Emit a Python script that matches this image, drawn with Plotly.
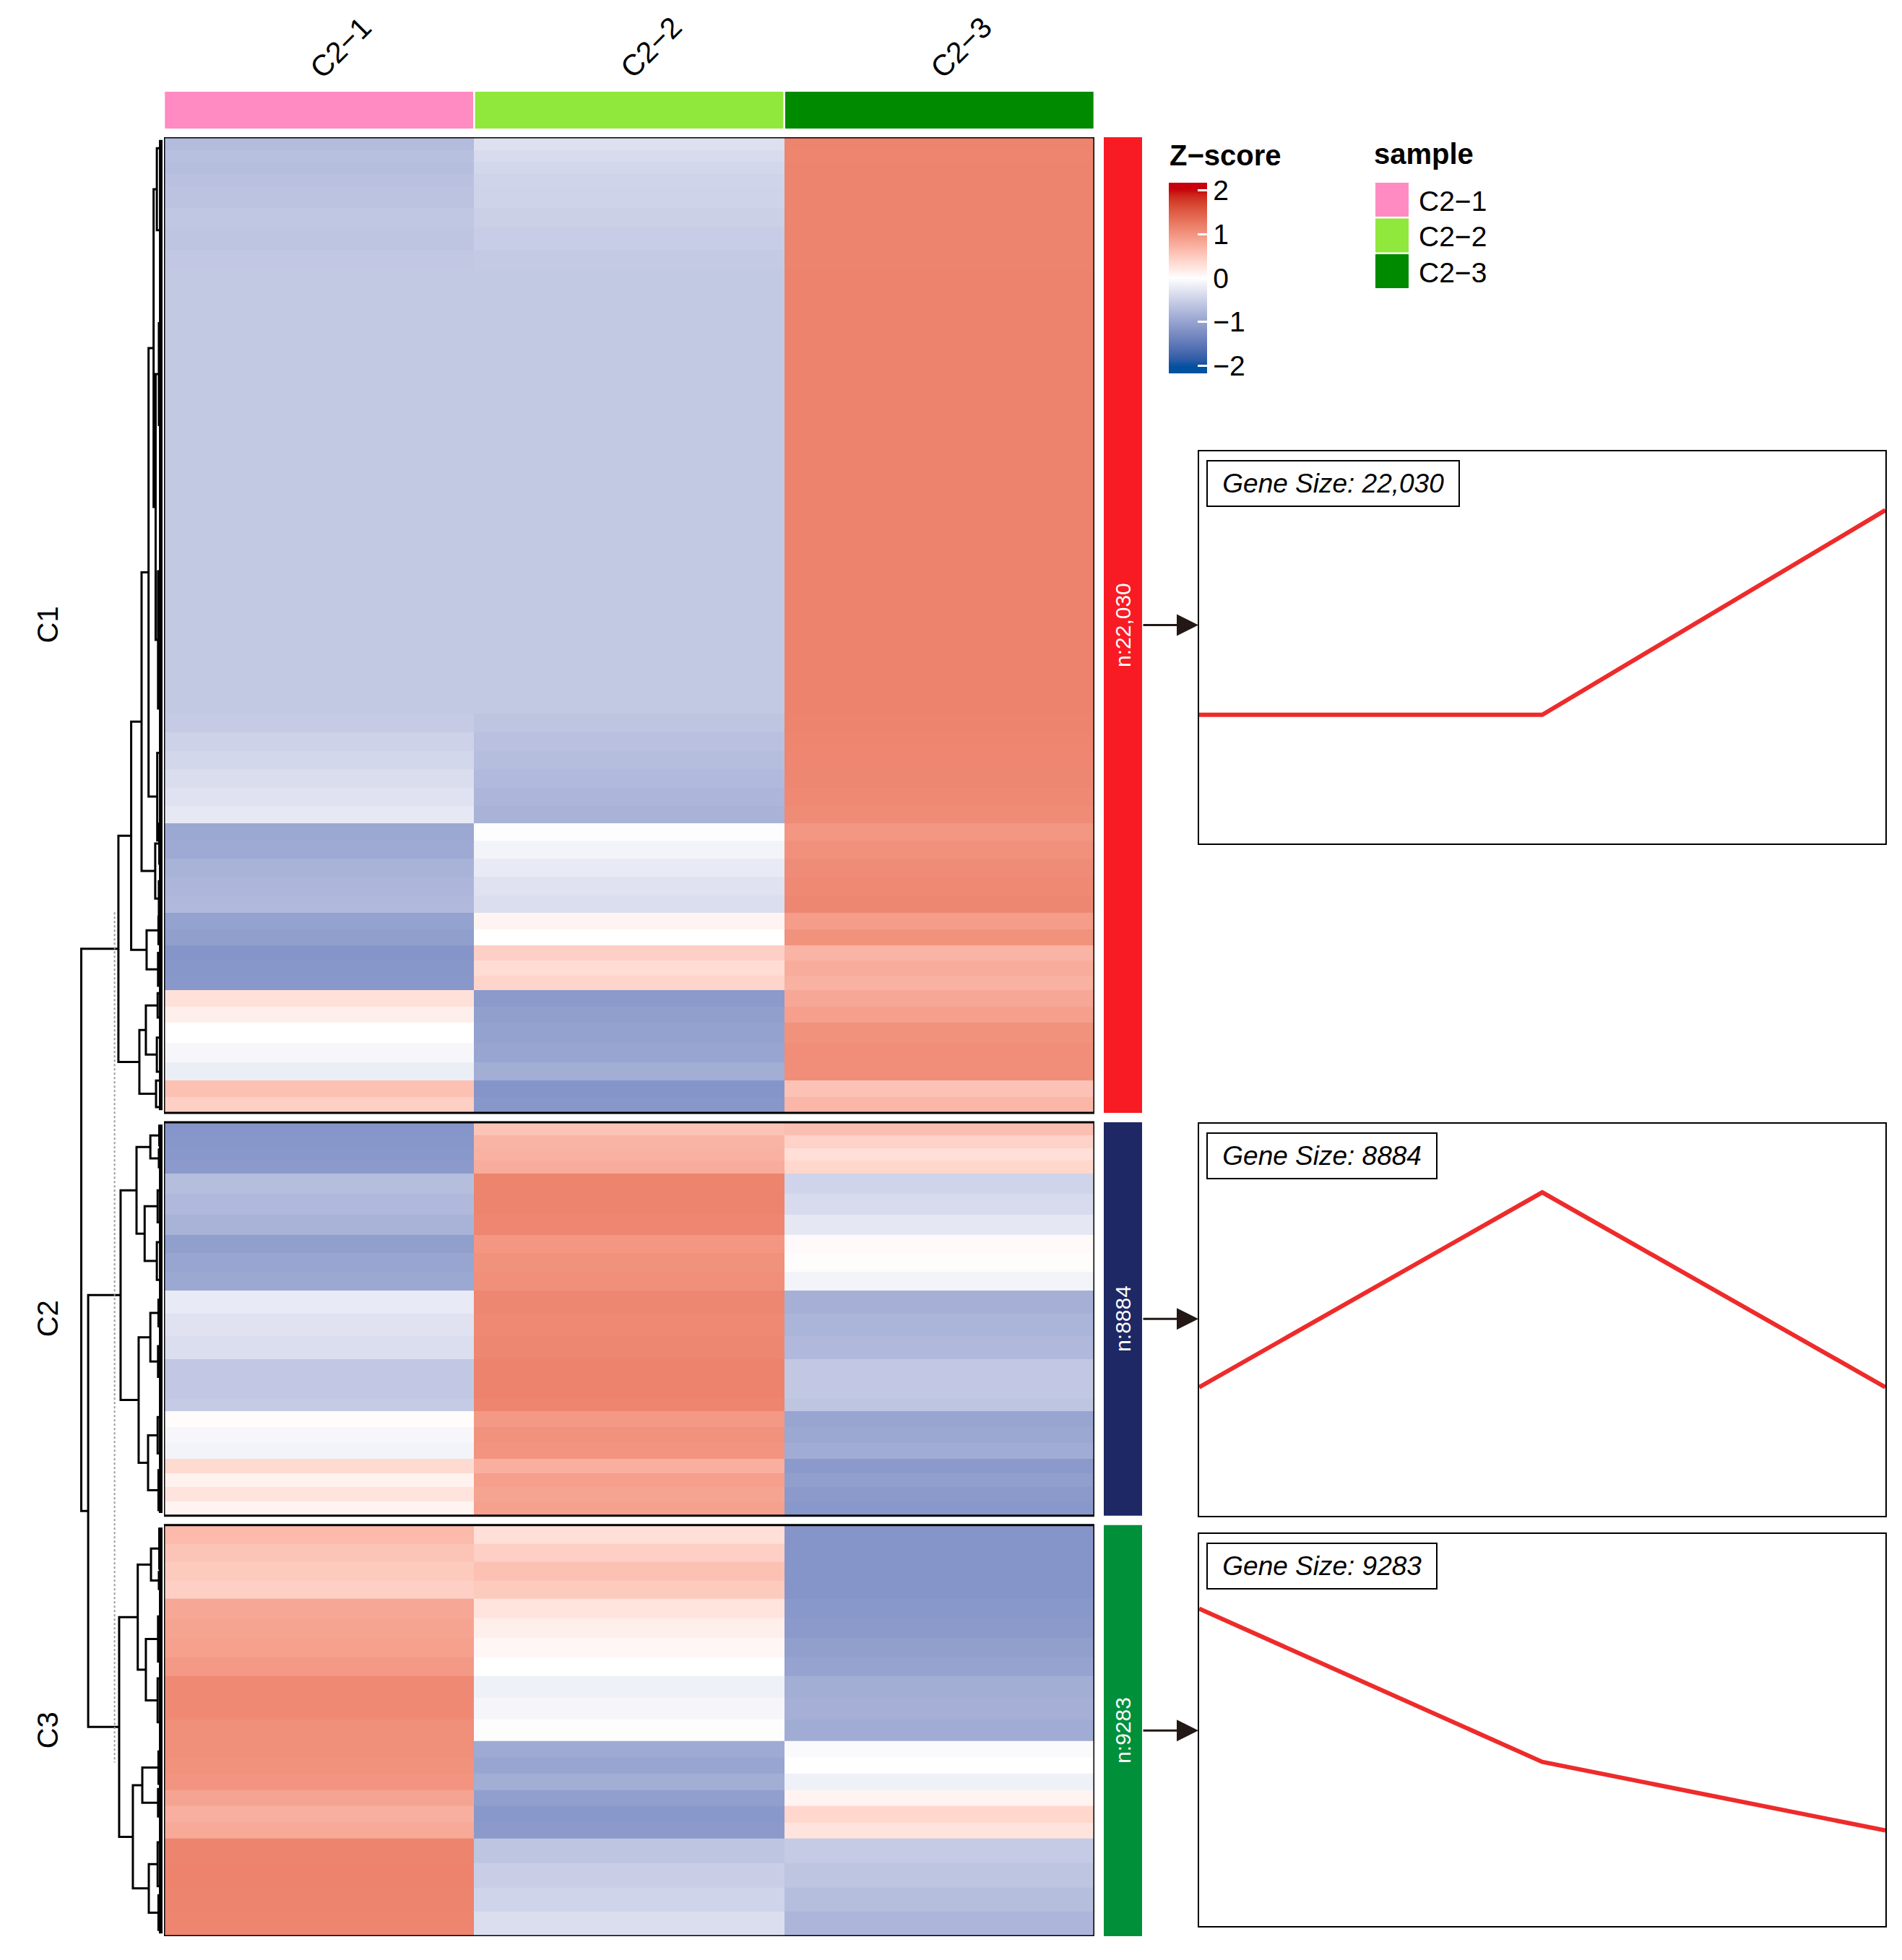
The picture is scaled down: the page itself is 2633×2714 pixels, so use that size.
import numpy as np
import plotly.graph_objects as go

W, H = 2633, 2714
OFF = 8  # page margin of the html body
FONT = "Arial, Liberation Sans, sans-serif"

# ---- data ----
samples = ["C2−1", "C2−2", "C2−3"]
sample_colors = ["#FF8BC2", "#91E83D", "#008A00"]

cluster_names = ["C1", "C2", "C3"]
cluster_sizes = [22030, 8884, 9283]
cluster_labels = ["22,030", "8884", "9283"]
cluster_colors = ["#F81B23", "#1D2864", "#00903A"]
cluster_gap = 212  # empty rows between slices

# z-score rows, run length: (genes, C2-1, C2-2, C2-3)
c1_rows = [
    (300, -0.72, -0.33, 1.15), (250, -0.68, -0.38, 1.14), (280, -0.70, -0.42, 1.15), (260, -0.66, -0.45, 1.15),
    (500, -0.64, -0.47, 1.15), (450, -0.60, -0.50, 1.15), (500, -0.62, -0.53, 1.15), (440, -0.58, -0.56, 1.15),
    (10033, -0.577, -0.577, 1.155),
    (420, -0.55, -0.62, 1.15), (420, -0.48, -0.66, 1.14), (420, -0.42, -0.70, 1.13),
    (420, -0.36, -0.74, 1.12), (400, -0.30, -0.78, 1.10), (392, -0.24, -0.82, 1.08),
    (400, -0.95, -0.02, 0.98), (400, -0.92, -0.12, 1.03),
    (420, -0.82, -0.22, 1.08), (420, -0.78, -0.30, 1.10), (396, -0.75, -0.35, 1.12),
    (360, -1.02, 0.10, 0.92), (367, -1.05, 0.00, 1.02),
    (340, -1.15, 0.45, 0.70), (340, -1.13, 0.32, 0.78), (338, -1.12, 0.40, 0.72),
    (360, 0.28, -1.10, 0.82), (367, 0.15, -1.05, 0.90),
    (450, 0.00, -1.02, 1.02), (450, -0.08, -0.98, 1.06), (409, -0.18, -0.88, 1.06),
    (364, 0.58, -1.15, 0.57), (364, 0.45, -1.13, 0.68),
]
c2_rows = [
    (290, -1.15, 0.55, 0.60), (290, -1.13, 0.70, 0.42), (290, -1.12, 0.72, 0.30), (291, -1.10, 0.78, 0.38),
    (460, -0.70, 1.15, -0.45), (460, -0.75, 1.15, -0.38), (457, -0.82, 1.13, -0.25),
    (420, -1.05, 0.98, 0.05), (420, -0.98, 1.02, 0.02), (417, -0.95, 1.05, -0.12),
    (520, -0.22, 1.12, -0.85), (520, -0.30, 1.10, -0.80), (516, -0.35, 1.12, -0.75),
    (900, -0.58, 1.155, -0.58), (273, -0.55, 1.14, -0.62),
    (360, 0.03, 0.95, -0.98), (360, -0.08, 1.02, -0.95), (357, -0.12, 1.00, -0.90),
    (320, 0.35, 0.75, -1.10), (320, 0.12, 0.90, -1.05), (320, 0.25, 0.85, -1.10), (323, 0.10, 0.88, -1.12),
]
c3_rows = [
    (420, 0.65, 0.30, -1.15), (413, 0.55, 0.45, -1.15),
    (420, 0.50, 0.58, -1.15), (413, 0.45, 0.50, -1.15),
    (440, 0.82, 0.25, -1.12), (442, 0.85, 0.15, -1.10),
    (430, 0.88, 0.08, -1.05), (428, 0.95, 0.00, -1.00),
    (490, 1.10, -0.15, -0.88), (490, 1.10, -0.10, -0.85), (490, 1.05, -0.02, -0.90),
    (370, 1.05, -0.92, -0.05), (370, 1.02, -0.98, 0.00), (363, 1.00, -0.88, -0.15),
    (370, 0.85, -1.05, 0.10), (370, 0.75, -1.12, 0.38), (363, 0.80, -1.10, 0.25),
    (550, 1.15, -0.62, -0.55), (550, 1.155, -0.52, -0.62), (550, 1.15, -0.45, -0.70), (551, 1.14, -0.35, -0.78),
]
cluster_rows = [c1_rows, c2_rows, c3_rows]

# mean z-score profile of each cluster
profile_c1 = [-0.55, -0.55, 1.12]
profile_c2 = [-0.55, 1.04, -0.55]
profile_c3 = [0.99, -0.26, -0.82]
profiles = [profile_c1, profile_c2, profile_c3]

# row dendrogram: node -> (height, child, child); int children are leaf rows
dend = {
    "root": (10.0, "C1", "C23"),
    "C23": (9.15, "C2", "C3"),
    "C1": (5.43, "A", "E"),
    "A": (3.86, "B", "Abot"),
    "B": (2.58, "C", "Bbot"),
    "C": (1.72, "D", "Cbot"),
    "D": (1.10, "D1", "D2"),
    "D1": (0.70, 250, 2100),
    "D2": (0.85, "D2a", "D2b"),
    "D2a": (0.45, 4200, 6500),
    "D2b": (0.55, 9800, 12900),
    "Cbot": (0.65, 13900, 15880),
    "Bbot": (0.90, "Bb1", "Bb2"),
    "Bb1": (0.40, 15500, 16400),
    "Bb2": (0.45, 16800, 17580),
    "Abot": (1.96, "Ab1", "Ab2"),
    "Ab1": (0.50, 17600, 18220),
    "Ab2": (0.55, 18420, 19160),
    "E": (2.85, "Etop", "Ebot"),
    "Etop": (2.05, "Et1", "Et2"),
    "Et1": (0.60, 19330, 19880),
    "Et2": (0.70, 20330, 21100),
    "Ebot": (0.80, 21300, 21900),
    "C2": (5.16, "C2a", "C2b"),
    "C2a": (3.20, "C2aa", "C2ab"),
    "C2aa": (1.50, "C2aa1", "C2aa2"),
    "C2aa1": (0.40, 22320, 22760),
    "C2aa2": (0.45, 22860, 23260),
    "C2ab": (2.20, "C2ab1", "C2ab2"),
    "C2ab1": (0.60, 23780, 24500),
    "C2ab2": (0.70, 24950, 25800),
    "C2b": (2.94, "C2ba", "C2bb"),
    "C2ba": (1.50, "C2ba1", "C2ba2"),
    "C2ba1": (0.50, 26250, 26850),
    "C2ba2": (0.55, 27300, 27990),
    "C2bb": (1.78, "C2bb1", "C2bb2"),
    "C2bb1": (0.60, 28900, 29720),
    "C2bb2": (0.50, 30100, 31000),
    "C3": (5.34, "C3a", "C3b"),
    "C3a": (3.05, "C3aa", "C3ab"),
    "C3aa": (1.42, "C3aa1", "C3aa2"),
    "C3aa1": (0.40, 31420, 32320),
    "C3aa2": (0.45, 32400, 32780),
    "C3ab": (2.05, "C3ab1", "C3ab2"),
    "C3ab1": (0.55, 33400, 34420),
    "C3ab2": (0.60, 34800, 35790),
    "C3b": (3.65, "C3ba", "C3bb"),
    "C3ba": (2.49, "C3ba1", "C3ba2"),
    "C3ba1": (0.50, 36450, 37180),
    "C3ba2": (0.55, 37300, 37920),
    "C3bb": (1.69, "C3bb1", "C3bb2"),
    "C3bb1": (0.60, 38500, 39490),
    "C3bb2": (0.50, 39700, 40480),
}
cut_height = 5.9
cut_rows = [17500, 36700]

zticks = [-2, -1, 0, 1, 2]
zlo, zhi = -2.17, 2.17
ramp_colors = ["#0051A0", "#FFFFFF", "#C6000C"]  # at -2, 0, 2


# ---- colour ramp in LAB space ----
def hex_to_lab(h):
    rgb = [int(h[i:i + 2], 16) / 255 for i in (1, 3, 5)]
    r, g, b = [c / 12.92 if c <= 0.04045 else ((c + 0.055) / 1.055) ** 2.4 for c in rgb]
    X = (0.4124 * r + 0.3576 * g + 0.1805 * b) / 0.95047
    Y = 0.2126 * r + 0.7152 * g + 0.0722 * b
    Z = (0.0193 * r + 0.1192 * g + 0.9505 * b) / 1.08883
    f = lambda t: t ** (1 / 3) if t > 0.008856 else 7.787 * t + 16 / 116
    fx, fy, fz = f(X), f(Y), f(Z)
    return np.array([116 * fy - 16, 500 * (fx - fy), 200 * (fy - fz)])


def lab_to_hex(lab):
    L, a, b = lab
    fy = (L + 16) / 116
    fx, fz = fy + a / 500, fy - b / 200
    finv = lambda t: t ** 3 if t ** 3 > 0.008856 else (t - 16 / 116) / 7.787
    X, Y, Z = 0.95047 * finv(fx), finv(fy), 1.08883 * finv(fz)
    rgb = [3.2406 * X - 1.5372 * Y - 0.4986 * Z,
           -0.9689 * X + 1.8758 * Y + 0.0415 * Z,
           0.0557 * X - 0.2040 * Y + 1.0570 * Z]
    out = []
    for c in rgb:
        c = min(max(c, 0), 1)
        c = 12.92 * c if c <= 0.0031308 else 1.055 * c ** (1 / 2.4) - 0.055
        out.append(int(round(min(max(c, 0), 1) * 255)))
    return "#%02X%02X%02X" % tuple(out)


labs = [hex_to_lab(c) for c in ramp_colors]
colorscale = []
for v in np.linspace(zlo, zhi, 63):
    t = min(max(v, -2), 2)
    if t < 0:
        lab = labs[1] + (labs[0] - labs[1]) * (-t / 2)
    else:
        lab = labs[1] + (labs[2] - labs[1]) * (t / 2)
    colorscale.append([(v - zlo) / (zhi - zlo), lab_to_hex(lab)])
colorscale[0][0], colorscale[-1][0] = 0.0, 1.0


def px(x):
    return (x - OFF) / W


def py(y):
    return 1 - (y - OFF) / H


fig = go.Figure()

# ---- heatmap slices ----
starts = []
pos = 0
for k, rows in enumerate(cluster_rows):
    starts.append(pos)
    counts = [r[0] for r in rows]
    edges = pos + np.concatenate([[0], np.cumsum(counts)])
    z = [list(r[1:]) for r in rows]
    fig.add_trace(go.Heatmap(
        z=z, x=[-0.5, 0.5, 1.5, 2.5], y=edges, xaxis="x", yaxis="y",
        colorscale=colorscale, zmin=zlo, zmax=zhi, hoverinfo="skip",
        showscale=(k == 0),
        colorbar=dict(x=px(1618), xanchor="left", y=py(253), yanchor="top",
                      len=264, lenmode="pixels", thickness=53, outlinewidth=0,
                      xpad=0, ypad=0, tickvals=zticks,
                      ticktext=[str(t).replace("-", "−") for t in zticks],
                      ticks="inside", ticklen=13, tickwidth=3, tickcolor="white",
                      tickfont=dict(size=39, color="black", family=FONT)),
    ))
    fig.add_shape(type="rect", xref="x", yref="y", x0=-0.5, x1=2.5,
                  y0=pos, y1=pos + cluster_sizes[k], line=dict(color="black", width=3))
    pos += cluster_sizes[k] + cluster_gap
total_rows = pos - cluster_gap

# ---- column annotation ----
fig.add_trace(go.Bar(x=[0, 1, 2], y=[1, 1, 1], width=0.994, marker_color=sample_colors,
                     marker_line_width=0, xaxis="x", yaxis="y2", hoverinfo="skip",
                     showlegend=False))
for i, s in enumerate(samples):
    fig.add_annotation(x=i, y=py(120), xref="x", yref="paper", text=s, showarrow=False,
                       textangle=-45, xanchor="left", yanchor="bottom", xshift=-24,
                       font=dict(size=41, family=FONT, color="black"))

# ---- dendrogram ----
dx, dy = [], []


def draw(node):
    if isinstance(node, (int, float)):
        return float(node), 0.0
    h, a, b = dend[node]
    ya, ha = draw(a)
    yb, hb = draw(b)
    dx.extend([ha, h, h, hb, None])
    dy.extend([ya, ya, yb, yb, None])
    return (ya + yb) / 2, h


draw("root")
fig.add_trace(go.Scatter(x=dx, y=dy, mode="lines", xaxis="x2", yaxis="y",
                         line=dict(color="black", width=3), hoverinfo="skip", showlegend=False))
# dense leaf fringe next to the heatmap
fx, fy = [], []
for k in range(3):
    fx.extend([0.22, 0.22, None])
    fy.extend([starts[k] + 60, starts[k] + cluster_sizes[k] - 60, None])
fig.add_trace(go.Scatter(x=fx, y=fy, mode="lines", xaxis="x2", yaxis="y",
                         line=dict(color="black", width=5), hoverinfo="skip", showlegend=False))
fig.add_trace(go.Scatter(x=[cut_height, cut_height], y=cut_rows, mode="lines", xaxis="x2", yaxis="y",
                         line=dict(color="#9A9A9A", width=2, dash="dot"), hoverinfo="skip",
                         showlegend=False))

# ---- row slice labels, cluster bars, arrows, profile panels ----
panel_tops = [625, 1556, 2124]
panel_h = 543
for k in range(3):
    y0 = starts[k]
    y1 = starts[k] + cluster_sizes[k]
    mid = (y0 + y1) / 2
    fig.add_annotation(x=px(66), y=mid, xref="paper", yref="y", text=cluster_names[k],
                       xanchor="center", yanchor="middle",
                       showarrow=False, textangle=-90, font=dict(size=40, family=FONT, color="black"))
    fig.add_shape(type="rect", xref="paper", yref="y", x0=px(1528), x1=px(1581), y0=y0, y1=y1,
                  fillcolor=cluster_colors[k], line=dict(width=0))
    fig.add_annotation(x=px(1554.5), y=mid, xref="paper", yref="y", text="n:" + cluster_labels[k],
                       xanchor="center", yanchor="middle",
                       showarrow=False, textangle=-90, font=dict(size=30, family=FONT, color="white"))
    fig.add_annotation(x=px(1659), y=mid, xref="paper", yref="y", text="", showarrow=True,
                       ax=-78, ay=0, arrowhead=2, arrowsize=2.0, arrowwidth=3,
                       arrowcolor="#231815", standoff=0)

    n = k + 3
    top = panel_tops[k]
    fig.add_trace(go.Scatter(x=[0, 1, 2], y=profiles[k], mode="lines", xaxis=f"x{n}", yaxis=f"y{n}",
                             line=dict(color="#EE2B2B", width=6), hoverinfo="skip", showlegend=False))
    axis = dict(showline=True, mirror=True, linecolor="black", linewidth=2, showgrid=False,
                zeroline=False, showticklabels=False, ticks="")
    fig.update_layout({
        f"xaxis{n}": dict(axis, domain=[px(1660), px(2610)], range=[0, 2], anchor=f"y{n}"),
        f"yaxis{n}": dict(axis, domain=[py(top + panel_h), py(top)], range=[-1.6, 1.6], anchor=f"x{n}"),
    })
    fig.add_annotation(x=px(1670), y=py(top + 12), xref="paper", yref="paper", xanchor="left",
                       yanchor="top", text="&nbsp;Gene Size: " + cluster_labels[k] + "&nbsp;",
                       showarrow=False, bordercolor="black", borderwidth=2, borderpad=10,
                       bgcolor="white", font=dict(size=37, family=FONT, color="black", style="italic"))

# ---- legends ----
fig.add_annotation(x=px(1617), y=py(215), xref="paper", yref="paper", text="<b>Z−score</b>",
                   xanchor="left", yanchor="middle", showarrow=False,
                   font=dict(size=40, family=FONT, color="black"))
for v in zticks:
    yy = 253 + (zhi - v) / (zhi - zlo) * 264
    fig.add_shape(type="line", xref="paper", yref="paper", x0=px(1618), x1=px(1631),
                  y0=py(yy), y1=py(yy), line=dict(color="white", width=3))
fig.add_annotation(x=px(1900), y=py(213), xref="paper", yref="paper", text="<b>sample</b>",
                   xanchor="left", yanchor="middle", showarrow=False,
                   font=dict(size=40, family=FONT, color="black"))
for i, (s, c) in enumerate(zip(samples, sample_colors)):
    top = 253 + i * 49.5
    fig.add_shape(type="rect", xref="paper", yref="paper", x0=px(1904), x1=px(1950),
                  y0=py(top + 47), y1=py(top), fillcolor=c, line=dict(width=0))
    fig.add_annotation(x=px(1962), y=py(top + 25), xref="paper", yref="paper", text=s,
                       xanchor="left", yanchor="middle", showarrow=False,
                       font=dict(size=39, family=FONT, color="black"))

hidden = dict(visible=False, showgrid=False, zeroline=False)
fig.update_layout(
    width=W, height=H, margin=dict(l=0, r=0, t=0, b=0),
    paper_bgcolor="white", plot_bgcolor="white", showlegend=False,
    font=dict(family=FONT, color="black"),
    xaxis=dict(hidden, domain=[px(227), px(1515)], range=[-0.5, 2.5], anchor="y"),
    yaxis=dict(hidden, domain=[py(2681), py(190)], range=[total_rows, 0], anchor="x"),
    yaxis2=dict(hidden, domain=[py(178), py(127)], range=[0, 1], anchor="x"),
    xaxis2=dict(hidden, domain=[px(108), px(225)], range=[10.4, 0], anchor="y"),
)

fig.write_html("out.html")
